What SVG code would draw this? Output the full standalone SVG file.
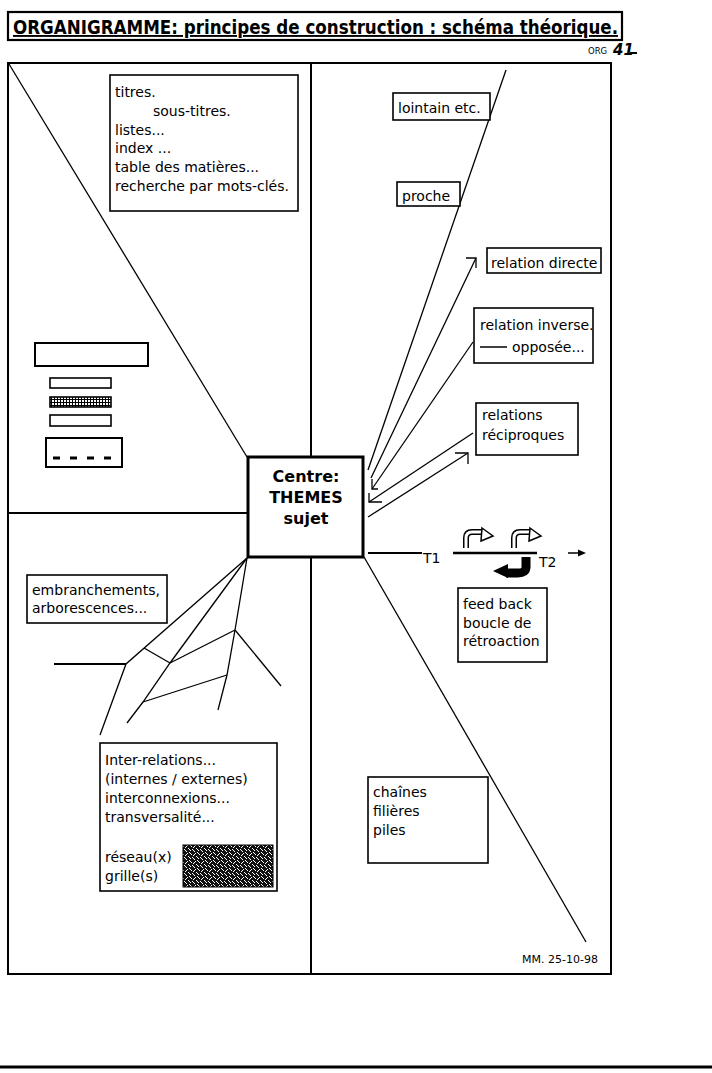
<svg xmlns="http://www.w3.org/2000/svg" width="712" height="1073" viewBox="0 0 712 1073">
<style>
.t{font-family:"DejaVu Sans","Liberation Sans",sans-serif;font-size:14px;fill:#000}
.b{fill:#fff;stroke:#000;stroke-width:1.6}
.l{fill:none;stroke:#000;stroke-width:1.3}
.f{fill:none;stroke:#000;stroke-width:2}
</style>
<defs>
<pattern id="grid" patternUnits="userSpaceOnUse" width="3" height="3">
<rect width="3" height="3" fill="#fff"/>
<path d="M0,0.5H3M0.5,0V3" stroke="#000" stroke-width="1"/>
</pattern>
<pattern id="weave" patternUnits="userSpaceOnUse" width="8" height="8">
<rect width="8" height="8" fill="#111"/>
<path d="M0,1L3,4M4,0L7,3M1,8L4,5M5,4L8,7" stroke="#fff" stroke-width="1"/>
</pattern>
</defs>
<rect width="712" height="1073" fill="#fff"/>

<g id="title">
<rect x="8" y="12" width="614" height="28" fill="none" stroke="#000" stroke-width="2.2"/>
<text x="13" y="34" style="font-family:'DejaVu Sans',sans-serif;font-weight:bold;font-size:19px;text-decoration:underline" textLength="605" lengthAdjust="spacingAndGlyphs">ORGANIGRAMME: principes de construction : schéma théorique.</text>
<text x="588" y="54" style="font-family:'DejaVu Sans',sans-serif;font-size:8.5px">ORG</text>
<text x="613" y="55" style="font-family:'DejaVu Sans',sans-serif;font-size:15px;font-weight:bold;font-style:italic">41</text>
<line x1="630" y1="53" x2="637" y2="53" stroke="#000" stroke-width="2"/>
</g>

<g id="frame">
<rect x="8" y="63" width="603" height="911" class="f"/>
<line x1="311" y1="63" x2="311" y2="457" class="f"/>
<line x1="311" y1="557" x2="311" y2="974" class="f"/>
<line x1="8" y1="513" x2="248" y2="513" class="f"/>
<line x1="0" y1="1067" x2="712" y2="1067" stroke="#000" stroke-width="3"/>
</g>

<g id="connectors">
<line x1="9" y1="64" x2="247" y2="457" class="l"/>
<line x1="506" y1="70" x2="368" y2="470" class="l"/>
<line x1="371" y1="478" x2="476" y2="258" class="l"/>
<path d="M466,258H476V268" class="l"/>
<line x1="473" y1="342" x2="372" y2="489" class="l"/>
<path d="M372,479V489H378" class="l"/>
<line x1="473" y1="433" x2="369" y2="502" class="l"/>
<path d="M369,493V502H382" class="l"/>
<line x1="368" y1="517" x2="468" y2="453" class="l"/>
<path d="M455,453H468V464" class="l"/>
<line x1="364" y1="557" x2="586" y2="942" class="l"/>
<line x1="368" y1="553" x2="422" y2="553" stroke="#000" stroke-width="2"/>
<line x1="453" y1="553" x2="537" y2="553" stroke="#000" stroke-width="2.5"/>
<line x1="568" y1="553" x2="580" y2="553" stroke="#000" stroke-width="1.5"/>
<path d="M586,553L578,549.5V556.5Z" fill="#000"/>
<g id="tree" class="l">
<polyline points="247,558 126,664 100,735" fill="none"/>
<line x1="54" y1="664" x2="126" y2="664" stroke-width="2"/>
<line x1="144" y1="648" x2="170" y2="663"/>
<polyline points="247,558 170,663 143,702 127,723" fill="none"/>
<polyline points="247,558 235,630 227,675 218,710" fill="none"/>
<line x1="235" y1="630" x2="170" y2="663"/>
<line x1="235" y1="630" x2="281" y2="686"/>
<line x1="227" y1="675" x2="143" y2="702"/>
</g>
</g>

<g id="feedback-arrows">
<path d="M466,548V538Q466,532 472,532H483" fill="none" stroke="#000" stroke-width="6"/>
<path d="M466,549V538Q466,532 472,532H484" fill="none" stroke="#fff" stroke-width="3"/>
<path d="M482,528L493,536L481,541Z" fill="#fff" stroke="#000" stroke-width="1.5"/>
<path d="M514,548V538Q514,532 520,532H531" fill="none" stroke="#000" stroke-width="6"/>
<path d="M514,549V538Q514,532 520,532H532" fill="none" stroke="#fff" stroke-width="3"/>
<path d="M530,528L541,536L529,541Z" fill="#fff" stroke="#000" stroke-width="1.5"/>
<path d="M526,557V567Q526,573 518,573H506" fill="none" stroke="#000" stroke-width="9"/>
<path d="M508,564L493,571L508,578Z" fill="#000"/>
</g>

<g id="centre">
<rect x="248" y="457" width="115" height="100" fill="#fff" stroke="#000" stroke-width="3"/>
<text x="306" y="482" text-anchor="middle" style="font-family:'DejaVu Sans',sans-serif;font-weight:bold;font-size:16px">Centre:</text>
<text x="306" y="503" text-anchor="middle" style="font-family:'DejaVu Sans',sans-serif;font-weight:bold;font-size:16px">THEMES</text>
<text x="306" y="524" text-anchor="middle" style="font-family:'DejaVu Sans',sans-serif;font-weight:bold;font-size:16px">sujet</text>
</g>

<g id="titres">
<rect x="110" y="75" width="188" height="136" class="b"/>
<text class="t" x="115" y="97">titres.</text>
<text class="t" x="153" y="116">sous-titres.</text>
<text class="t" x="115" y="135">listes...</text>
<text class="t" x="115" y="153">index ...</text>
<text class="t" x="115" y="172">table des matières...</text>
<text class="t" x="115" y="191">recherche par mots-clés.</text>
</g>

<g id="widgets">
<rect x="35" y="343" width="113" height="23" fill="#fff" stroke="#000" stroke-width="2"/>
<rect x="50" y="378" width="61" height="10" class="b"/>
<rect x="50" y="397" width="61" height="10" fill="url(#grid)" stroke="#000" stroke-width="1.6"/>
<rect x="50" y="415" width="61" height="11" class="b"/>
<rect x="46" y="438" width="76" height="29" fill="#fff" stroke="#000" stroke-width="2"/>
<line x1="53" y1="458" x2="115" y2="458" stroke="#000" stroke-width="3" stroke-dasharray="7,10"/>
</g>

<g id="lointain">
<rect x="393" y="93" width="97" height="27" class="b"/>
<text class="t" x="398" y="113">lointain etc.</text>
</g>

<g id="proche">
<rect x="397" y="182" width="63" height="24" class="b"/>
<text class="t" x="402" y="201">proche</text>
</g>

<g id="relation-directe">
<rect x="487" y="248" width="114" height="25" class="b"/>
<text class="t" x="491" y="268">relation directe</text>
</g>

<g id="relation-inverse">
<rect x="474" y="308" width="119" height="55" class="b"/>
<text class="t" x="480" y="330">relation inverse.</text>
<line x1="480" y1="347" x2="507" y2="347" stroke="#000" stroke-width="1.5"/>
<text class="t" x="512" y="352">opposée...</text>
</g>

<g id="reciproques">
<rect x="476" y="403" width="102" height="52" class="b"/>
<text class="t" x="482" y="420">relations</text>
<text class="t" x="482" y="440">réciproques</text>
</g>

<g id="feedback">
<text class="t" x="423" y="563">T1</text>
<text class="t" x="539" y="567">T2</text>
<rect x="458" y="588" width="89" height="74" class="b"/>
<text class="t" x="463" y="609">feed back</text>
<text class="t" x="463" y="628">boucle de</text>
<text class="t" x="463" y="646">rétroaction</text>
</g>

<g id="embranchements">
<rect x="27" y="575" width="140" height="48" class="b"/>
<text class="t" x="32" y="595">embranchements,</text>
<text class="t" x="32" y="613">arborescences...</text>
</g>

<g id="inter-relations">
<rect x="100" y="743" width="177" height="148" class="b"/>
<text class="t" x="105" y="765">Inter-relations...</text>
<text class="t" x="105" y="784">(internes / externes)</text>
<text class="t" x="105" y="803">interconnexions...</text>
<text class="t" x="105" y="822">transversalité...</text>
<text class="t" x="105" y="862">réseau(x)</text>
<text class="t" x="105" y="881">grille(s)</text>
<rect x="183" y="845" width="90" height="42" fill="url(#weave)" stroke="#000" stroke-width="1"/>
</g>

<g id="chaines">
<rect x="368" y="777" width="120" height="86" class="b"/>
<text class="t" x="373" y="797">chaînes</text>
<text class="t" x="373" y="816">filières</text>
<text class="t" x="373" y="835">piles</text>
</g>

<g id="signature">
<text x="522" y="963" style="font-family:'DejaVu Sans',sans-serif;font-size:11px">MM. 25-10-98</text>
</g>
</svg>
